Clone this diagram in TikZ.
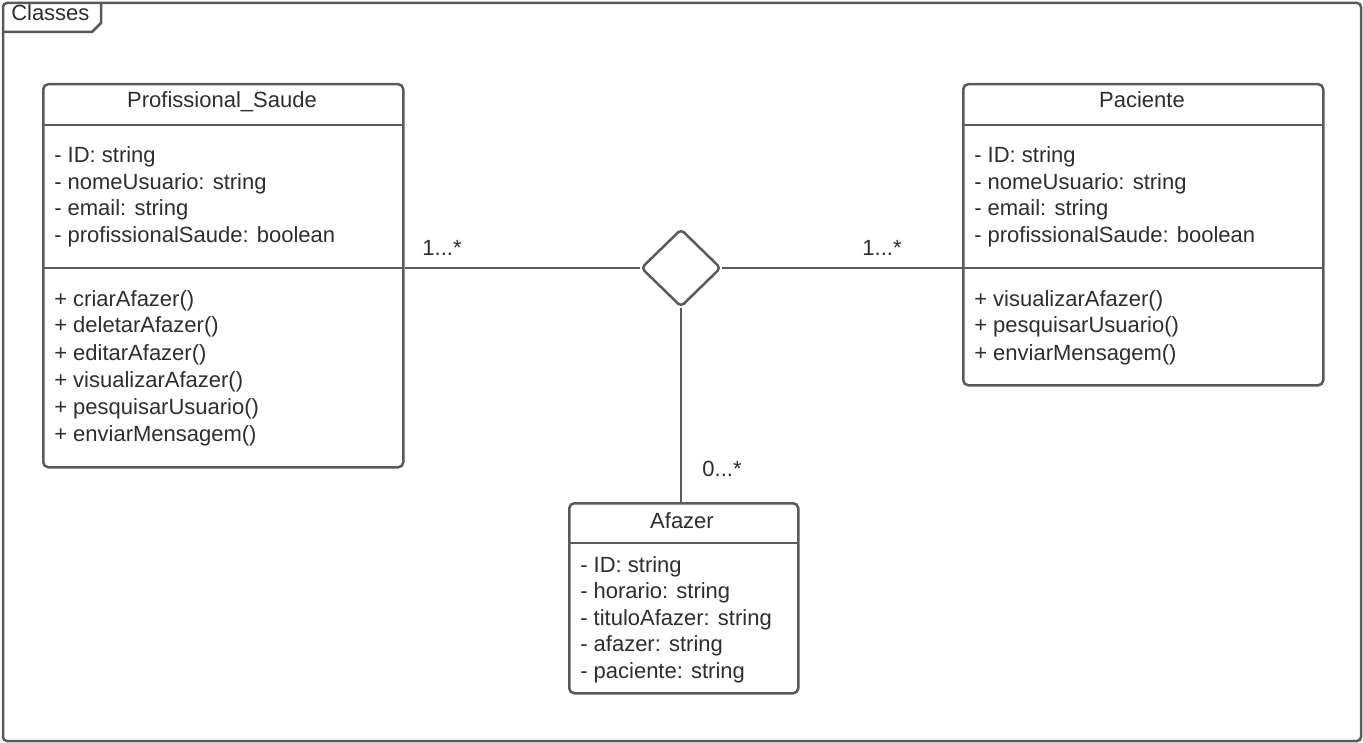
\documentclass[tikz,border=0pt]{standalone}
\usepackage{fontspec}
\setmainfont{Liberation Sans}
\usetikzlibrary{shapes.geometric}
\definecolor{edge}{HTML}{5A5A5A}
\definecolor{ink}{HTML}{2E2E2E}
\begin{document}
\begin{tikzpicture}[x=1pt,y=-1pt,line width=2.5pt,
  umlbox/.style={draw=edge,fill=white,rounded corners=5pt,inner sep=0pt,anchor=north west},
  txt/.style={text=ink,font=\fontsize{22}{26}\selectfont,inner sep=0pt,anchor=base west},
  head/.style={txt,anchor=base},
  mult/.style={txt,anchor=base},
  rel/.style={draw=edge,diamond,fill=white,rounded corners=4pt,inner sep=0pt,
    minimum width=80pt,minimum height=78pt},
  link/.style={draw=edge}]
\useasboundingbox (0,0) rectangle (1363,743);
\fill[white] (0,0) rectangle (1363,743);

% frame with its name tab
\draw[edge,rounded corners=4pt] (3,3) rectangle (1361,741);
\draw[edge,line join=round] (3,32) -- (92,32) -- (101,23) -- (101,3);
\node[txt] (frame) at (10,21) {Classes};

% class Profissional_Saude
\node[umlbox,minimum width=360pt,minimum height=383pt] (ps) at (42,83) {};
\draw[edge] (42,125) -- (402,125);
\draw[edge] (42,268) -- (402,268);
\node[head] (psname) at (222,108) {Profissional\_Saude};
\node[txt] (psa1) at (53,163) {- ID: string};
\node[txt] (psa2) at (53,190) {- nomeUsuario: string};
\node[txt] (psa3) at (53,216) {- email: string};
\node[txt] (psa4) at (53,243) {- profissionalSaude: boolean};
\node[txt] (psm1) at (53,307) {+ criarAfazer()};
\node[txt] (psm2) at (53,333) {+ deletarAfazer()};
\node[txt] (psm3) at (53,360) {+ editarAfazer()};
\node[txt] (psm4) at (53,387) {+ visualizarAfazer()};
\node[txt] (psm5) at (53,414) {+ pesquisarUsuario()};
\node[txt] (psm6) at (53,441) {+ enviarMensagem()};

% class Paciente
\node[umlbox,minimum width=360pt,minimum height=301pt] (pa) at (962,83) {};
\draw[edge] (962,125) -- (1322,125);
\draw[edge] (962,268) -- (1322,268);
\node[head] (paname) at (1142,108) {Paciente};
\node[txt] (paa1) at (973,163) {- ID: string};
\node[txt] (paa2) at (973,190) {- nomeUsuario: string};
\node[txt] (paa3) at (973,216) {- email: string};
\node[txt] (paa4) at (973,243) {- profissionalSaude: boolean};
\node[txt] (pam1) at (973,307) {+ visualizarAfazer()};
\node[txt] (pam2) at (973,333) {+ pesquisarUsuario()};
\node[txt] (pam3) at (973,360) {+ enviarMensagem()};

% class Afazer
\node[umlbox,minimum width=229pt,minimum height=190pt] (af) at (568,502) {};
\draw[edge] (568,543) -- (797,543);
\node[head] (afname) at (682,528) {Afazer};
\node[txt] (afa1) at (579,572) {- ID: string};
\node[txt] (afa2) at (579,598) {- horario: string};
\node[txt] (afa3) at (579,625) {- tituloAfazer: string};
\node[txt] (afa4) at (579,651) {- afazer: string};
\node[txt] (afa5) at (579,678) {- paciente: string};

% n-ary association
\node[rel] (assoc) at (681,268) {};
\draw[link] (assoc.west) -- (assoc.west -| ps.east);
\draw[link] (assoc.east) -- (assoc.east -| pa.west);
\draw[link] (assoc.south) -- (assoc.south |- af.north);
\node[mult] (m1) at (442,256) {1...*};
\node[mult] (m2) at (882,256) {1...*};
\node[mult] (m3) at (722,476) {0...*};
\end{tikzpicture}
\end{document}
